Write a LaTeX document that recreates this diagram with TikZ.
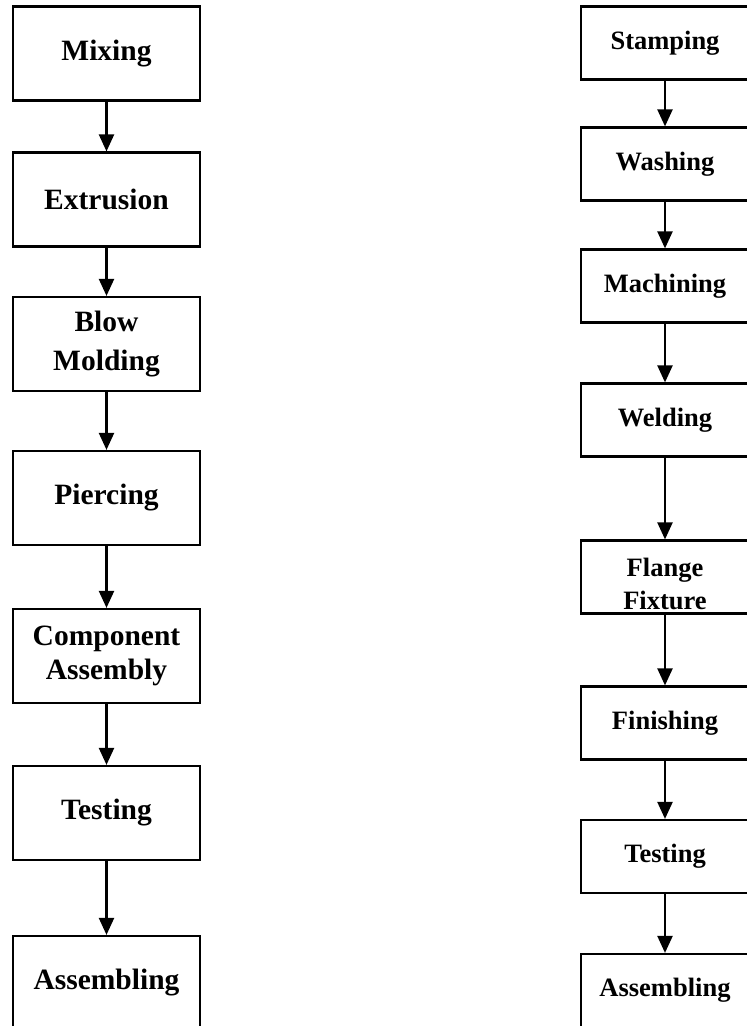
\documentclass[tikz,border=0pt]{standalone}
\usepackage{fontspec}
\setmainfont{Liberation Serif}
\usetikzlibrary{arrows.meta}
\begin{document}
\begin{tikzpicture}[x=1pt, y=-1pt,
  lbox/.style={draw, line width=2.2pt, minimum width=187pt, minimum height=94pt,
    inner sep=0pt, align=center, font=\bfseries\fontsize{29.5}{36}\selectfont},
  rbox/.style={draw, line width=2.2pt, minimum width=168pt, minimum height=73pt,
    inner sep=0pt, align=center, font=\bfseries\fontsize{26.5}{32}\selectfont},
  rtext/.style={inner sep=0pt, align=center, font=\bfseries\fontsize{26.5}{32}\selectfont},
  flow/.style={line width=2.2pt, -{Triangle[width=15pt, length=17pt]}}]
\useasboundingbox (0,0) rectangle (747,1026);
\begin{scope}
\clip (0,0) rectangle (747,1026);
% left line
\node[lbox] (mix)  at (106.5, 53.5) {Mixing};
\node[lbox] (ext)  at (106.5, 199.5) {Extrusion};
\node[lbox] (blow) at (106.5, 344) {Blow\\[3pt]Molding};
\node[lbox] (pier) at (106.5, 498) {Piercing};
\node[lbox] (comp) at (106.5, 656) {Component\\[-2pt]Assembly};
\node[lbox] (ltest) at (106.5, 813) {Testing};
\node[lbox] (lasm) at (106.5, 983) {Assembling};
% right line
\node[rbox] (stamp) at (665, 43) {Stamping};
\node[rbox] (wash)  at (665, 164) {Washing};
\node[rbox] (mach)  at (665, 286) {Machining};
\node[rbox] (weld)  at (665, 420) {Welding};
\node[rbox, label={[rtext, yshift=-7pt]center:Flange\\[1pt]Fixture}] (flan) at (665, 577) {};
\node[rbox] (fin)   at (665, 723) {Finishing};
\node[rbox] (rtest) at (665, 856.5) {Testing};
\node[rbox] (rasm)  at (665, 990.5) {Assembling};
\end{scope}
\foreach \a/\b in {mix/ext, ext/blow, blow/pier, pier/comp, comp/ltest, ltest/lasm,
  stamp/wash, wash/mach, mach/weld, weld/flan, flan/fin, fin/rtest, rtest/rasm}
  \draw[flow] (\a.south) -- (\b.north);
\end{tikzpicture}
\end{document}
